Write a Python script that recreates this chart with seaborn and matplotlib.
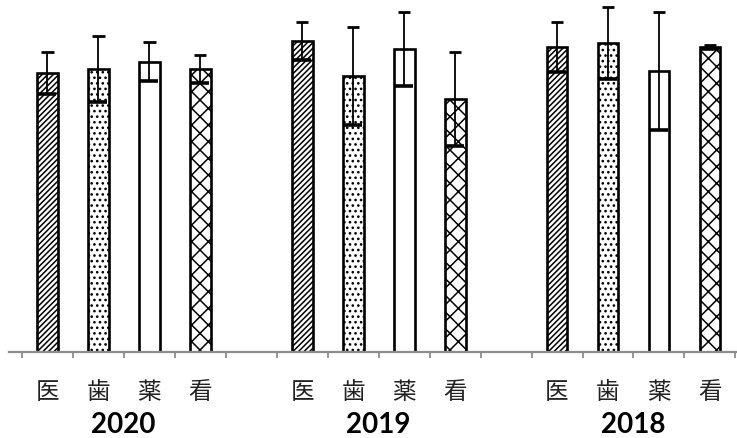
import numpy as np
import pandas as pd
import matplotlib
matplotlib.use("Agg")
import matplotlib.pyplot as plt
import seaborn as sns
from matplotlib.transforms import blended_transform_factory

years = ["2020", "2019", "2018"]
categories = ["医", "歯", "薬", "看"]
values_2020 = [79.7, 80.9, 82.9, 80.9]
errors_2020 = [6.0, 9.4, 5.6, 4.0]
values_2019 = [88.9, 78.9, 86.6, 72.3]
errors_2019 = [5.4, 14.1, 10.6, 13.4]
values_2018 = [87.1, 88.3, 80.3, 87.1]
errors_2018 = [7.1, 10.3, 16.9, 0.6]

values = [values_2020, values_2019, values_2018]
errors = [errors_2020, errors_2019, errors_2018]

rows = []
for gi, year in enumerate(years):
    for ci, cat in enumerate(categories):
        rows.append({"slot": gi * 5 + ci, "year": year, "cat": cat,
                     "value": values[gi][ci], "err": errors[gi][ci]})
df = pd.DataFrame(rows)

sns.set_theme(style="white")
plt.rcParams["font.family"] = ["Noto Sans CJK JP", "DejaVu Sans"]
plt.rcParams["hatch.linewidth"] = 1.1

fig = plt.figure(figsize=(7.37, 4.39), dpi=100)
ax = fig.add_axes([0, 86 / 439, 1, 353 / 439])

sns.barplot(data=df, x="slot", y="value", native_scale=True, orient="x",
            width=0.41, color="white", edgecolor="black", linewidth=1.9,
            errorbar=None, ax=ax, zorder=2)

hatch_map = {"医": "//////", "歯": "...", "薬": "", "看": "xx"}
slot_to_cat = dict(zip(df["slot"], df["cat"]))
for p in ax.patches:
    cx = p.get_x() + p.get_width() / 2
    s = int(round(cx))
    p.set_hatch(hatch_map[slot_to_cat[s]])
    p.set_facecolor("white")
    p.set_edgecolor("black")

x = df["slot"].to_numpy(dtype=float)
v = df["value"].to_numpy()
e = df["err"].to_numpy()
ax.errorbar(x, v, yerr=e, fmt="none", ecolor="black", elinewidth=1.3,
            capsize=0, zorder=4)
ax.hlines(v + e, x - 0.125, x + 0.125, color="black", lw=2.0, zorder=4)
ax.hlines(v - e, x - 0.17, x + 0.17, color="black", lw=2.6, zorder=4)

ax.set_xlim(-0.925, 13.53)
ax.set_ylim(0, 353 / 3.5)
ax.set_xlabel("")
ax.set_ylabel("")
ax.set_yticks([])

for side in ["top", "left", "right"]:
    ax.spines[side].set_visible(False)
ax.spines["bottom"].set_color("#8c8c8c")
ax.spines["bottom"].set_linewidth(1.6)
ax.spines["bottom"].set_bounds(-0.75, 13.53)
ax.spines["bottom"].set_zorder(5)

ax.set_xticks(df["slot"].to_numpy())
ax.set_xticklabels(df["cat"].tolist(), fontsize=17, color="#222222")
ax.set_xticks(np.arange(-0.5, 14, 1.0), minor=True)
ax.tick_params(axis="x", which="major", length=0, pad=20)
ax.tick_params(axis="x", which="minor", length=4.5, width=1.3,
               color="#8c8c8c", direction="out", bottom=True)

trans = blended_transform_factory(ax.transData, fig.transFigure)
for gi, year in enumerate(years):
    ax.text(gi * 5 + 1.5, 6 / 439, year, transform=trans, ha="center",
            va="baseline", fontsize=20, fontweight="bold", family="Lato",
            color="black")

fig.savefig("out.png", dpi=100)
